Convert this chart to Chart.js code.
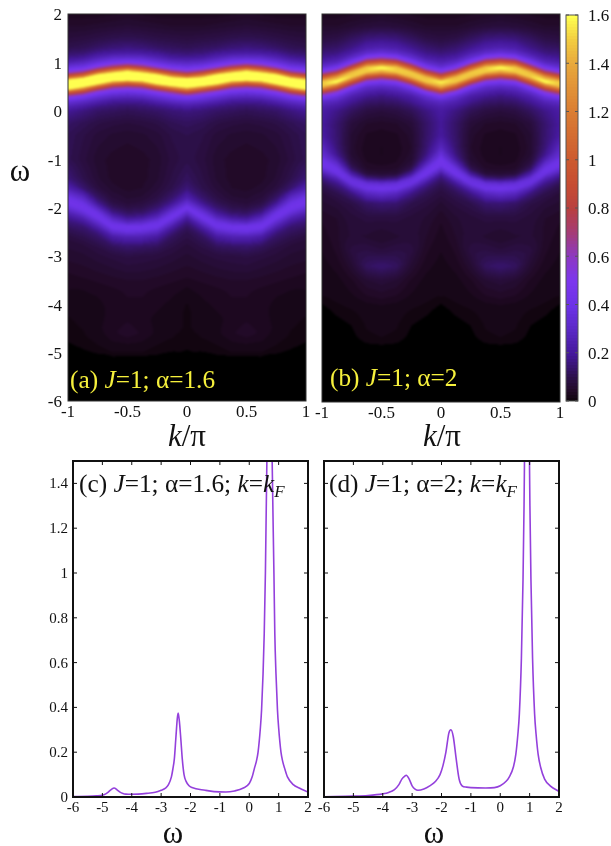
<!DOCTYPE html>
<html>
<head>
<meta charset="utf-8">
<script src="https://cdn.jsdelivr.net/npm/chart.js@4/dist/chart.umd.js"></script>
<style>
  html, body { margin: 0; padding: 0; background: #fff; }
  #page { position: relative; width: 611px; height: 846px; overflow: hidden; font-family: "Liberation Serif", serif; }
  canvas { position: absolute; }
  .label { position: absolute; white-space: nowrap; line-height: 1; color: #111; }
  .panel { font-size: 25.3px; }
  .yellow { color: #f6f03c; }
  .title { font-size: 31px; transform: translate(-50%, 0); }
  i { font-style: italic; }
  sub { font-size: 17px; vertical-align: baseline; position: relative; top: 5px; line-height: 0; font-style: italic; }
</style>
</head>
<body>
<div id="page">
  <canvas id="heatA" width="320" height="440" style="left:0;top:0"></canvas>
  <canvas id="heatB" width="270" height="440" style="left:306px;top:0"></canvas>
  <canvas id="bar" width="71" height="440" style="left:540px;top:0"></canvas>
  <canvas id="lineC" width="320" height="830" style="left:0;top:0"></canvas>
  <canvas id="lineD" width="270" height="830" style="left:306px;top:0"></canvas>

  <div class="label panel yellow" style="left:70px;top:367px">(a) <i>J</i>=1; α=1.6</div>
  <div class="label panel yellow" style="left:330px;top:365px">(b) <i>J</i>=1; α=2</div>
  <div class="label panel" style="left:79px;top:471px">(c) <i>J</i>=1; α=1.6; <i>k</i>=<i>k</i><sub>F</sub></div>
  <div class="label panel" style="left:329px;top:471px">(d) <i>J</i>=1; α=2; <i>k</i>=<i>k</i><sub>F</sub></div>
  <div class="label title" style="left:20px;top:155px">ω</div>
  <div class="label title" style="left:187px;top:420px"><i>k</i>/π</div>
  <div class="label title" style="left:442px;top:420px"><i>k</i>/π</div>
  <div class="label title" style="left:173px;top:817px">ω</div>
  <div class="label title" style="left:434px;top:817px">ω</div>
</div>

<script>
// ====================== DATA ======================
const kTicks = [-1, -0.5, 0, 0.5, 1];
const omegaTicks = [-6, -5, -4, -3, -2, -1, 0, 1, 2];
const weightTicks = [0, 0.2, 0.4, 0.6, 0.8, 1, 1.2, 1.4];
const colorbarTicks = [0, 0.2, 0.4, 0.6, 0.8, 1, 1.2, 1.4, 1.6];

// colour table
const colorLevels = [0, 0.0125, 0.05, 0.1, 0.2, 0.3, 0.4, 0.5, 0.6, 0.7, 0.8, 0.9, 1, 1.2, 1.4, 1.5, 1.6];
const colorHex = ['#000000', '#120510', '#220a28', '#2c1048', '#44189a', '#5a28c4', '#6c32e6', '#7c36ee', '#8c38c4', '#a43c78', '#b84040', '#c64c32', '#cc5a30', '#da7c32', '#e8a83c', '#f2cc40', '#ffff50'];

// columns of the maps: k/pi from 0 to 1, the left half is the mirror image
const kColumns = [0, 0.125, 0.25, 0.375, 0.5, 0.625, 0.75, 0.875, 1];

// where the two bright bands sit in each column
const bandUpperA = [.57, .6, .65, .7, .72, .7, .65, .58, .54];
const bandLowerA = [-2, -2.2, -2.35, -2.42, -2.43, -2.38, -2.22, -2.05, -1.92];
const bandUpperB = [.57, .64, .76, .85, .88, .85, .74, .62, .56];
const bandLowerB = [-1.08, -1.28, -1.45, -1.55, -1.57, -1.55, -1.45, -1.26, -1.07];

const omegaRowsA = [2, 1.75, 1.5, 1.3, 1.2, 1.1, 1, 0.9, 0.8, 0.7, 0.6, 0.5, 0.4, 0.3, 0.2, 0.1, 0, -0.25, -0.5, -1, -1.4, -1.6, -1.8, -1.9, -2, -2.1, -2.2, -2.3, -2.4, -2.5, -2.6, -2.8, -3, -3.5, -3.7, -4, -4.3, -4.6, -4.85, -5, -5.12, -6];
const mapA = [
  [.03, .03, .03, .035, .04, .035, .03, .03, .03],
  [.05, .05, .055, .06, .065, .06, .055, .05, .05],
  [.08, .085, .09, .1, .105, .1, .09, .08, .075],
  [.11, .12, .13, .15, .16, .15, .13, .11, .1],
  [.14, .15, .18, .2, .21, .2, .18, .14, .13],
  [.19, .2, .25, .3, .31, .3, .25, .19, .17],
  [.28, .3, .36, .43, .47, .43, .36, .28, .24],
  [.39, .43, .55, .75, .9, .75, .55, .4, .36],
  [.62, .75, 1.05, 1.4, 1.7, 1.4, 1.05, .66, .53],
  [1.15, 1.4, 2, 2.6, 2.5, 2.6, 2, 1.25, 1],
  [2.4, 2.6, 2, 1.4, 1.2, 1.4, 2, 2.5, 1.9],
  [1.7, 1.4, 1.05, .72, .66, .72, 1.05, 1.6, 2.2],
  [.95, .72, .55, .43, .4, .43, .55, .85, 1.1],
  [.5, .43, .36, .3, .28, .3, .36, .47, .58],
  [.33, .3, .25, .2, .19, .2, .25, .31, .36],
  [.23, .2, .17, .15, .14, .15, .17, .22, .26],
  [.16, .15, .13, .12, .11, .12, .13, .16, .19],
  [.12, .11, .09, .08, .075, .08, .09, .11, .13],
  [.1, .09, .07, .06, .055, .06, .07, .09, .11],
  [.095, .08, .055, .045, .04, .045, .055, .08, .105],
  [.12, .09, .06, .045, .04, .045, .065, .1, .15],
  [.15, .1, .07, .05, .045, .055, .08, .14, .24],
  [.24, .14, .09, .065, .06, .075, .13, .3, .4],
  [.33, .18, .11, .08, .07, .09, .18, .38, .42],
  [.42, .26, .14, .1, .09, .12, .27, .42, .35],
  [.33, .36, .19, .13, .12, .17, .38, .36, .26],
  [.22, .42, .27, .19, .17, .26, .42, .26, .19],
  [.16, .32, .38, .3, .27, .36, .33, .19, .15],
  [.12, .22, .4, .42, .42, .42, .24, .14, .12],
  [.1, .16, .3, .36, .38, .33, .17, .12, .1],
  [.09, .12, .21, .25, .26, .22, .13, .1, .08],
  [.07, .09, .12, .13, .14, .12, .09, .07, .065],
  [.06, .07, .08, .085, .09, .08, .07, .06, .055],
  [.035, .04, .045, .05, .05, .045, .04, .035, .03],
  [.02, .03, .035, .04, .04, .035, .03, .025, .025],
  [.012, .02, .03, .035, .035, .03, .02, .015, .015],
  [.012, .014, .02, .03, .035, .03, .02, .014, .012],
  [.012, .014, .022, .035, .045, .035, .022, .012, .012],
  [.01, .01, .012, .02, .022, .02, .012, .008, .001],
  [0, .003, .006, .012, .012, .012, .005, 0, 0],
  [0, 0, 0, 0, 0, 0, 0, 0, 0],
  [0, 0, 0, 0, 0, 0, 0, 0, 0]
];

const omegaRowsB = [2, 1.75, 1.5, 1.3, 1.2, 1.1, 1, 0.9, 0.8, 0.7, 0.6, 0.5, 0.4, 0.3, 0.2, 0.1, 0, -0.25, -0.5, -0.75, -0.9, -1, -1.1, -1.2, -1.3, -1.4, -1.5, -1.6, -1.7, -1.9, -2.2, -2.6, -2.9, -3.2, -3.5, -3.9, -4, -4.3, -4.7, -4.85, -6];
const mapB = [
  [.03, .03, .035, .04, .045, .04, .035, .03, .03],
  [.05, .05, .06, .07, .075, .07, .06, .05, .05],
  [.08, .09, .12, .15, .16, .15, .12, .09, .08],
  [.12, .14, .18, .23, .25, .23, .17, .13, .12],
  [.15, .17, .24, .31, .35, .31, .22, .16, .15],
  [.19, .22, .33, .5, .58, .5, .31, .21, .18],
  [.25, .31, .52, .9, 1.05, .9, .47, .28, .24],
  [.34, .47, .95, 1.5, 1.65, 1.5, .85, .43, .33],
  [.55, .85, 1.5, 1.5, 1.35, 1.5, 1.45, .75, .52],
  [1, 1.45, 1.45, .9, .75, .9, 1.5, 1.35, .95],
  [1.6, 1.5, .85, .5, .43, .5, .95, 1.65, 1.5],
  [1.4, .95, .47, .32, .29, .32, .52, 1.05, 1.45],
  [.8, .52, .31, .24, .21, .24, .33, .58, .85],
  [.45, .33, .22, .18, .16, .18, .24, .37, .48],
  [.3, .25, .18, .14, .13, .14, .19, .27, .31],
  [.24, .2, .14, .11, .1, .11, .15, .21, .25],
  [.21, .16, .11, .085, .075, .085, .12, .17, .22],
  [.19, .13, .07, .05, .045, .05, .075, .14, .2],
  [.2, .13, .055, .035, .03, .035, .06, .14, .21],
  [.28, .14, .05, .03, .025, .03, .055, .15, .29],
  [.36, .16, .055, .03, .025, .03, .06, .18, .33],
  [.42, .2, .06, .035, .03, .035, .07, .24, .39],
  [.42, .28, .075, .04, .035, .04, .09, .33, .42],
  [.32, .38, .11, .05, .045, .05, .13, .4, .34],
  [.2, .42, .2, .075, .065, .08, .22, .38, .22],
  [.14, .3, .36, .17, .14, .18, .36, .25, .15],
  [.11, .19, .38, .36, .33, .36, .37, .17, .11],
  [.09, .14, .26, .4, .42, .39, .25, .13, .09],
  [.08, .11, .17, .28, .32, .28, .16, .1, .07],
  [.06, .08, .1, .14, .15, .13, .09, .07, .06],
  [.04, .06, .07, .08, .08, .08, .07, .05, .04],
  [.03, .05, .07, .06, .05, .06, .065, .045, .03],
  [.025, .04, .08, .09, .08, .09, .08, .04, .025],
  [.02, .03, .06, .12, .14, .12, .06, .03, .02],
  [.015, .02, .035, .06, .07, .06, .035, .02, .015],
  [.012, .015, .02, .03, .035, .03, .02, .015, .012],
  [.002, .01, .015, .02, .025, .02, .015, .01, .002],
  [0, .002, .006, .015, .018, .015, .006, .002, 0],
  [0, 0, 0, .01, .012, .01, 0, 0, 0],
  [0, 0, 0, 0, .002, 0, 0, 0, 0],
  [0, 0, 0, 0, 0, 0, 0, 0, 0]
];

const omegaC = [-6, -5.5, -5.2, -5, -4.9, -4.8, -4.7, -4.6, -4.5, -4.4, -4.3, -4.2, -4, -3.5, -3.2, -3, -2.85, -2.75, -2.65, -2.6, -2.55, -2.5, -2.45, -2.42, -2.38, -2.33, -2.28, -2.22, -2.15, -2.05, -1.95, -1.5, -1.2, -0.8, -0.5, -0.2, 0, 0.1, 0.18, 0.24, 0.3, 0.38, 0.42, 0.47, 0.51, 0.55, 0.6, 0.65, 0.69, 0.73, 0.78, 0.84, 0.87, 0.91, 0.96, 1, 1.08, 1.14, 1.2, 1.3, 1.5, 1.7, 2];
const spectrumC = [.002, .003, .005, .008, .013, .022, .033, .04, .032, .022, .016, .013, .012, .016, .021, .03, .04, .055, .09, .125, .17, .26, .35, .375, .34, .26, .17, .1, .07, .05, .042, .03, .024, .022, .027, .04, .06, .09, .13, .158, .2, .31, .39, .55, .73, 1, 1.5, 2.1, 2.3, 2.1, 1.5, 1, .73, .55, .39, .31, .2, .158, .13, .09, .055, .04, .022];

const omegaD = [-6, -5, -4.5, -4, -3.8, -3.6, -3.45, -3.35, -3.25, -3.2, -3.1, -3, -2.9, -2.8, -2.6, -2.4, -2.2, -2.05, -1.95, -1.85, -1.75, -1.68, -1.6, -1.5, -1.4, -1.3, -1.15, -1, -0.5, -0.2, 0, 0.2, 0.31, 0.45, 0.53, 0.6, 0.65, 0.72, 0.775, 0.81, 0.84, 0.87, 0.91, 0.95, 0.98, 1.01, 1.045, 1.1, 1.17, 1.22, 1.29, 1.37, 1.51, 1.7, 2];
const spectrumD = [.001, .004, .007, .014, .02, .033, .055, .08, .093, .097, .08, .05, .035, .03, .036, .05, .07, .1, .14, .2, .285, .3, .27, .17, .08, .05, .044, .042, .04, .042, .05, .07, .09, .135, .19, .28, .37, .62, .97, 1.3, 1.7, 2.1, 2.3, 2.1, 1.7, 1.3, .97, .62, .37, .28, .19, .135, .08, .05, .025];

// ====================== COLOURS ======================
const colorRgb = colorHex.map(h => [1, 3, 5].map(i => parseInt(h.substr(i, 2), 16)));

function colorAt(v) {
  if (v < 0.004) return colorRgb[0];
  // same small steps as the colour bar
  const q = Math.min(Math.ceil(v / 0.0125) * 0.0125, 1.6);
  let i = 0;
  while (i < colorLevels.length - 2 && q > colorLevels[i + 1]) i++;
  const t = (q - colorLevels[i]) / (colorLevels[i + 1] - colorLevels[i]);
  return colorRgb[i].map((c, n) => c + (colorRgb[i + 1][n] - c) * t);
}

// ====================== PLUGINS ======================
function bracket(list, v) {
  let i = 0;
  while (i < list.length - 2 && v > list[i + 1]) i++;
  return [i, Math.max(0, Math.min(1, (v - list[i]) / (list[i + 1] - list[i])))];
}

// paints the map through the chart's own scales. Between two columns the bands
// are followed rather than cross-faded, otherwise they break up into beads.
function heatPlugin(rows, map, upper, lower) {
  const ascRows = rows.slice().reverse();
  const ascMap = map.slice().reverse();

  function sampleColumn(col, w) {
    const [r, t] = bracket(ascRows, w);
    return ascMap[r][col] * (1 - t) + ascMap[r + 1][col] * t;
  }

  return {
    id: 'heat',
    beforeDatasetsDraw(chart) {
      const { ctx, chartArea: area, scales } = chart;
      const left = Math.round(area.left), top = Math.round(area.top);
      const w = Math.round(area.right - area.left), h = Math.round(area.bottom - area.top);
      const off = document.createElement('canvas');
      off.width = w; off.height = h;
      const offCtx = off.getContext('2d');
      const img = offCtx.createImageData(w, h);
      for (let px = 0; px < w; px++) {
        const [c, tc] = bracket(kColumns, Math.abs(scales.x.getValueForPixel(left + px + 0.5)));
        const up = upper[c] * (1 - tc) + upper[c + 1] * tc;
        const lo = lower[c] * (1 - tc) + lower[c + 1] * tc;
        for (let py = 0; py < h; py++) {
          const om = scales.y.getValueForPixel(top + py + 0.5);
          const s = Math.max(0, Math.min(1, (om - lo) / (up - lo)));
          const shift0 = (lower[c] - lo) * (1 - s) + (upper[c] - up) * s;
          const shift1 = (lower[c + 1] - lo) * (1 - s) + (upper[c + 1] - up) * s;
          const v = sampleColumn(c, om + shift0) * (1 - tc) + sampleColumn(c + 1, om + shift1) * tc;
          const rgb = colorAt(v);
          const o = (py * w + px) * 4;
          img.data[o] = rgb[0]; img.data[o + 1] = rgb[1]; img.data[o + 2] = rgb[2]; img.data[o + 3] = 255;
        }
      }
      offCtx.putImageData(img, 0, 0);
      ctx.save();
      ctx.beginPath();
      ctx.rect(left, top, w, h);
      ctx.clip();
      ctx.drawImage(off, left, top);
      ctx.filter = 'blur(1.2px)';
      ctx.drawImage(off, left, top);
      ctx.restore();
    }
  };
}

const colorbarPlugin = {
  id: 'colorbar',
  beforeDatasetsDraw(chart) {
    const { ctx, chartArea: area, scales } = chart;
    for (let py = Math.round(area.top); py < area.bottom; py++) {
      const rgb = colorAt(scales.y.getValueForPixel(py + 0.5));
      ctx.fillStyle = `rgb(${rgb.map(Math.round).join(',')})`;
      ctx.fillRect(area.left, py, area.right - area.left, 1);
    }
  }
};

// frame and inward ticks, gnuplot style
function framePlugin(color, width, tickLen) {
  return {
    id: 'frame',
    afterDatasetsDraw(chart) {
      const { ctx, chartArea: a, scales } = chart;
      ctx.save();
      ctx.strokeStyle = color;
      ctx.lineWidth = width;
      ctx.strokeRect(a.left, a.top, a.right - a.left, a.bottom - a.top);
      ctx.lineWidth = 1;
      ctx.beginPath();
      if (scales.x.options.display) scales.x.ticks.forEach(t => {
        const x = scales.x.getPixelForValue(t.value);
        ctx.moveTo(x, a.top); ctx.lineTo(x, a.top + tickLen);
        ctx.moveTo(x, a.bottom); ctx.lineTo(x, a.bottom - tickLen);
      });
      scales.y.ticks.forEach(t => {
        const y = scales.y.getPixelForValue(t.value);
        ctx.moveTo(a.left, y); ctx.lineTo(a.left + tickLen, y);
        ctx.moveTo(a.right, y); ctx.lineTo(a.right - tickLen, y);
      });
      ctx.stroke();
      ctx.restore();
    }
  };
}

// ====================== CHARTS ======================
function axis(min, max, ticks, size, fontSize, padding, labelOffset, extra) {
  return Object.assign({
    type: 'linear', min, max,
    grid: { display: false, drawTicks: false },
    border: { display: false },
    afterBuildTicks: s => { s.ticks = ticks.map(value => ({ value })); },
    ticks: {
      autoSkip: false, maxRotation: 0, padding, labelOffset,
      color: '#111',
      font: { family: '"Liberation Serif", serif', size: fontSize },
      callback: v => String(v)
    },
    // fixed box, and no room asked for the labels that hang over the ends
    afterFit: s => {
      if (size.horizontal) s.height = size.horizontal;
      else s.width = size.vertical;
      s.paddingTop = s.paddingBottom = s.paddingLeft = s.paddingRight = 0;
    }
  }, extra);
}

function makeChart(id, data, opts, plugins) {
  return new Chart(document.getElementById(id), {
    type: 'scatter',
    data: { datasets: [data] },
    options: Object.assign({
      responsive: false, animation: false, devicePixelRatio: 1,
      events: [],
      plugins: { legend: { display: false }, tooltip: { enabled: false } }
    }, opts),
    plugins
  });
}

function mapPoints(rows, map) {
  const pts = [];
  rows.forEach((w, r) => kColumns.forEach((k, c) => {
    pts.push({ x: k, y: w, v: map[r][c] });
    if (k > 0) pts.push({ x: -k, y: w, v: map[r][c] });
  }));
  return { data: pts, pointRadius: 0 };
}

function linePoints(xs, ys) {
  return {
    data: xs.map((x, i) => ({ x, y: ys[i] })),
    showLine: true, pointRadius: 0,
    borderColor: '#9440dc', borderWidth: 1.6,
    cubicInterpolationMode: 'monotone'
  };
}

makeChart('heatA', mapPoints(omegaRowsA, mapA), {
  layout: { padding: { top: 14, right: 14, left: 0, bottom: 0 } },
  scales: {
    x: axis(-1, 1, kTicks, { horizontal: 39 }, 17, 1, 0),
    y: axis(-6, 2, omegaTicks, { vertical: 68 }, 17, 6, 2)
  }
}, [heatPlugin(omegaRowsA, mapA, bandUpperA, bandLowerA), framePlugin('#333', 1, 0)]);

makeChart('heatB', mapPoints(omegaRowsB, mapB), {
  layout: { padding: { top: 14, right: 16, left: 0, bottom: 0 } },
  scales: {
    x: axis(-1, 1, kTicks, { horizontal: 38 }, 17, 1, 0),
    y: axis(-6, 2, [], { vertical: 16 }, 17, 6, 0)
  }
}, [heatPlugin(omegaRowsB, mapB, bandUpperB, bandLowerB), framePlugin('#333', 1, 0)]);

makeChart('bar', { data: colorbarTicks.map(y => ({ x: 0.5, y })), pointRadius: 0 }, {
  layout: { padding: { top: 15, right: 0, left: 26, bottom: 39 } },
  scales: {
    x: { type: 'linear', min: 0, max: 1, display: false },
    y: axis(0, 1.6, colorbarTicks, { vertical: 33 }, 17, 10, 2, { position: 'right' })
  }
}, [colorbarPlugin, framePlugin('#555', 1, 3)]);

makeChart('lineC', linePoints(omegaC, spectrumC), {
  layout: { padding: { top: 461, right: 12, left: 0, bottom: 0 } },
  scales: {
    x: axis(-6, 2, omegaTicks, { horizontal: 33 }, 15, 2, 0),
    y: axis(0, 1.5, weightTicks, { vertical: 73 }, 15, 5, 1)
  }
}, [framePlugin('#111', 2, 4)]);

makeChart('lineD', linePoints(omegaD, spectrumD), {
  layout: { padding: { top: 461, right: 17, left: 0, bottom: 0 } },
  scales: {
    x: axis(-6, 2, omegaTicks, { horizontal: 33 }, 15, 2, 0),
    y: Object.assign(axis(0, 1.5, weightTicks, { vertical: 18 }, 15, 5, 0), { ticks: { display: false } })
  }
}, [framePlugin('#111', 2, 4)]);
</script>
</body>
</html>
